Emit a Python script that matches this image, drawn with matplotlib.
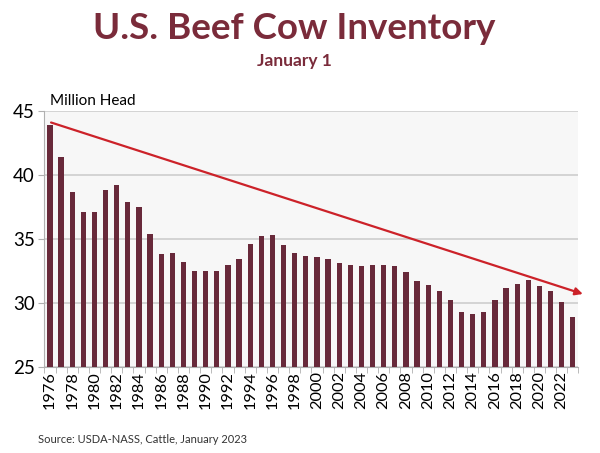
import matplotlib
matplotlib.use("Agg")
import matplotlib.pyplot as plt

years = list(range(1976, 2024))
cows = [43.9, 41.4, 38.7, 37.1, 37.1, 38.8, 39.2, 37.9, 37.5, 35.4,
        33.8, 33.9, 33.2, 32.5, 32.5, 32.5, 33.0, 33.4, 34.6, 35.2,
        35.3, 34.5, 33.9, 33.7, 33.6, 33.4, 33.1, 33.0, 32.9, 33.0,
        33.0, 32.9, 32.4, 31.7, 31.4, 30.9, 30.2, 29.3, 29.1, 29.3,
        30.2, 31.2, 31.5, 31.8, 31.3, 30.9, 30.1, 28.9]
trend_start = 44.1
trend_end = 30.7
yticks = [25, 30, 35, 40, 45]

maroon = "#68293a"
title_col = "#7a2b3a"
plt.rcParams['font.family'] = ['Lato', 'DejaVu Sans']

fig = plt.figure(figsize=(6, 4.53), dpi=100)
ax = fig.add_axes([0.074, 0.19, 0.89, 0.565])
ax.set_facecolor("#f7f7f7")

x = list(range(len(years)))
ax.bar(x, [c - 25 for c in cows], bottom=25, width=0.47, color=maroon, zorder=3)

ax.set_xlim(-0.5, len(years) - 0.5)
ax.set_ylim(25, 45)
ax.set_yticks(yticks)
ax.grid(axis='y', color="#cdcdcd", linewidth=1.2, zorder=0)
ax.tick_params(axis='y', length=4, labelsize=13.5, color="#b0b0b0", pad=3)

ax.set_xticks(x[::2])
ax.set_xticklabels([str(y) for y in years[::2]], rotation=90, fontsize=11.8)
ax.set_xticks([i - 0.5 for i in range(len(years) + 1)], minor=True)
ax.tick_params(axis='x', which='major', length=0, pad=3)
ax.tick_params(axis='x', which='minor', length=4, color="#b0b0b0")

for s in ['top', 'right']:
    ax.spines[s].set_visible(False)
ax.spines['left'].set_color("#b0b0b0")
ax.spines['bottom'].set_color("#b0b0b0")

ax.annotate("", xy=(len(years) - 0.1, trend_end), xytext=(0.1, trend_start),
            arrowprops=dict(arrowstyle="-|>", color="#cc2229", lw=1.6,
                            mutation_scale=11, shrinkA=0, shrinkB=0),
            annotation_clip=False, zorder=5)

ax.text(0.01, 1.01, "Million Head", transform=ax.transAxes, fontsize=11,
        ha='left', va='bottom')

fig.text(0.49, 0.937, "U.S. Beef Cow Inventory", ha='center', va='center',
         fontsize=26.5, fontweight='bold', color=title_col)
fig.text(0.49, 0.866, "January 1", ha='center', va='center',
         fontsize=12.5, fontweight='bold', color=title_col)
fig.text(0.063, 0.018, "Source: USDA-NASS, Cattle, January 2023", ha='left',
         va='bottom', fontsize=8, color="#333333")

fig.savefig("out.png", dpi=100)
